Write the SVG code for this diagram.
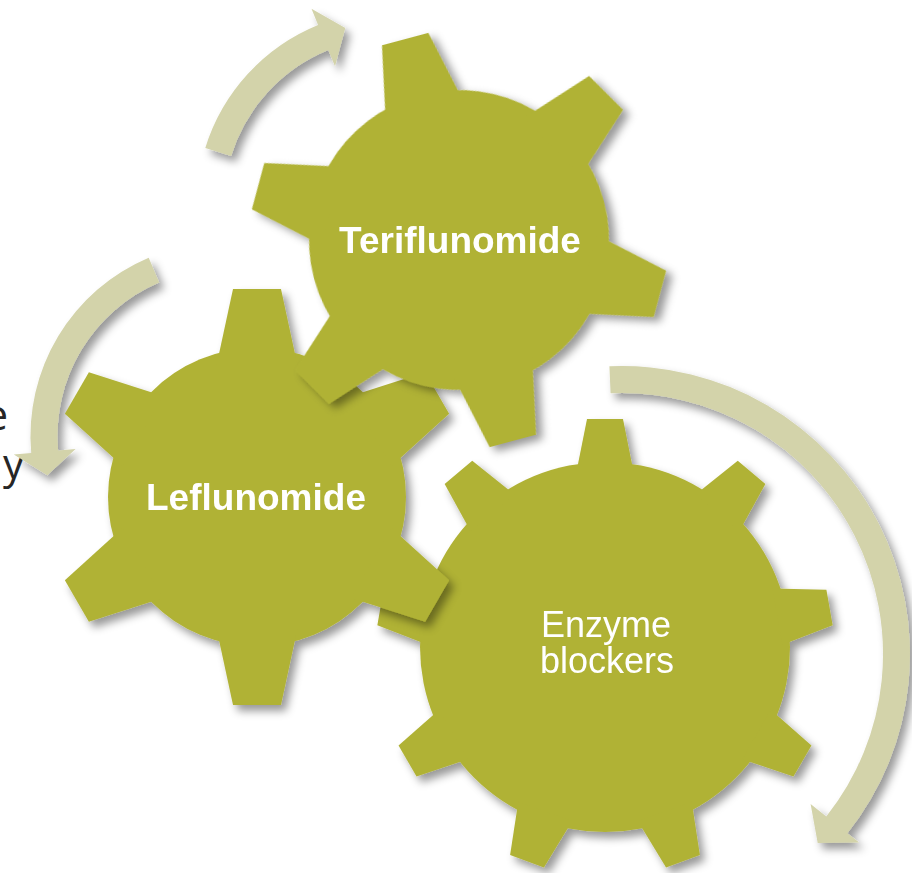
<svg xmlns="http://www.w3.org/2000/svg" xmlns:xlink="http://www.w3.org/1999/xlink" width="912" height="873" viewBox="0 0 912 873">
<style>
.gear{fill:#b0b236}
.arrow{fill:#d3d3aa}
.lb{font-family:"Liberation Sans",Arial,sans-serif;font-weight:bold;font-size:37px;fill:#ffffff;text-anchor:middle}
.lr{font-family:"Liberation Sans",Arial,sans-serif;font-size:36px;fill:#ffffff;text-anchor:middle}
.side{font-family:"Open Sans","Liberation Sans",sans-serif;font-size:42px;fill:#262626;text-anchor:end}
</style>
<defs>
<filter id="sh" x="-20%" y="-20%" width="150%" height="150%">
<feDropShadow dx="5" dy="6" stdDeviation="4" flood-color="#000" flood-opacity="0.4"/>
</filter>
<polygon id="toothS" points="-40.4,-132 -24,-208 24,-208 40.4,-132"/>
<polygon id="toothL" points="-28.6,-175 -18,-228 18,-228 28.6,-175"/>
</defs>
<rect width="912" height="873" fill="#ffffff"/>
<g id="side-text">
<text class="side" x="8" y="430">e</text>
<text class="side" x="24" y="479">y</text>
</g>
<g id="connectors">
<path class="arrow" filter="url(#sh)" d="M205.3,147.9 A195.5,195.5 0 0 1 318.1,25 L311.5,8.8 L345.3,28 L335,66.2 L328.3,50 A168.5,168.5 0 0 0 231.1,155.9 Z"/>
<path class="arrow" filter="url(#sh)" d="M148.7,257.7 A193.5,193.5 0 0 0 31.2,452.9 L13.8,454.4 L47.3,475.2 L75.6,449 L58.1,450.5 A166.5,166.5 0 0 1 159.2,282.6 Z"/>
<path class="arrow" filter="url(#sh)" d="M609.4,366.3 A288,288 0 0 1 847.4,833.3 L859.1,842.6 L817.7,843 L810.6,804 L826.3,816.5 A261,261 0 0 0 610.6,393.3 Z"/>
</g>
<g id="gear-enzyme">
<g class="gear" filter="url(#sh)" transform="translate(605,647)">
<circle r="185"/>
<use xlink:href="#toothL"/>
<use xlink:href="#toothL" transform="rotate(40)"/>
<use xlink:href="#toothL" transform="rotate(80)"/>
<use xlink:href="#toothL" transform="rotate(120)"/>
<use xlink:href="#toothL" transform="rotate(160)"/>
<use xlink:href="#toothL" transform="rotate(200)"/>
<use xlink:href="#toothL" transform="rotate(240)"/>
<use xlink:href="#toothL" transform="rotate(280)"/>
<use xlink:href="#toothL" transform="rotate(320)"/>
</g>
<text class="lr" x="606" y="637">Enzyme</text>
<text class="lr" x="607" y="673">blockers</text>
</g>
<g id="gear-leflunomide">
<g class="gear" filter="url(#sh)" transform="translate(257,497)">
<circle r="149"/>
<use xlink:href="#toothS"/>
<use xlink:href="#toothS" transform="rotate(60)"/>
<use xlink:href="#toothS" transform="rotate(120)"/>
<use xlink:href="#toothS" transform="rotate(180)"/>
<use xlink:href="#toothS" transform="rotate(240)"/>
<use xlink:href="#toothS" transform="rotate(300)"/>
</g>
<text class="lb" x="256" y="510">Leflunomide</text>
</g>
<g id="gear-teriflunomide">
<g class="gear" filter="url(#sh)" transform="translate(459,240) rotate(-15)">
<circle r="150"/>
<use xlink:href="#toothS"/>
<use xlink:href="#toothS" transform="rotate(60)"/>
<use xlink:href="#toothS" transform="rotate(120)"/>
<use xlink:href="#toothS" transform="rotate(180)"/>
<use xlink:href="#toothS" transform="rotate(240)"/>
<use xlink:href="#toothS" transform="rotate(300)"/>
</g>
<text class="lb" x="460" y="253">Teriflunomide</text>
</g>
</svg>
